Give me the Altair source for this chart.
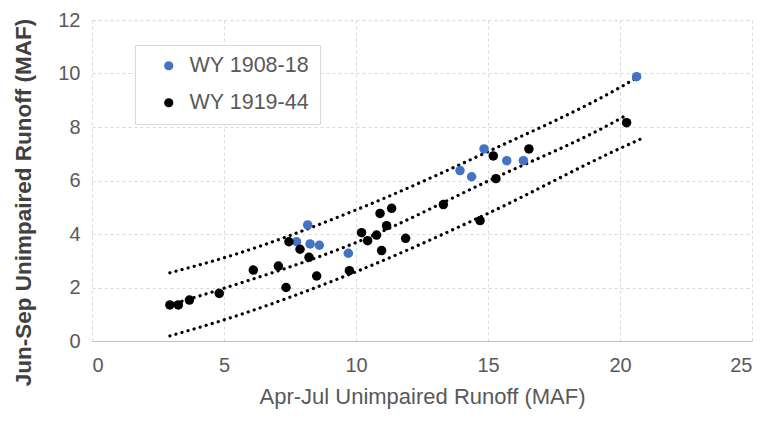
import altair as alt
import pandas as pd

# Scatter data (Apr-Jul runoff, Jun-Sep runoff), MAF
wy1908_x = [8.17, 7.75, 8.26, 8.61, 9.71, 13.94, 14.38, 14.85, 15.71, 16.34, 20.63]
wy1908_y = [4.34, 3.71, 3.63, 3.58, 3.28, 6.37, 6.14, 7.18, 6.74, 6.74, 9.88]

wy1919_x = [2.95, 3.27, 3.69, 4.82, 6.11, 7.06, 7.35, 7.46, 7.88, 8.22, 8.51, 9.75, 10.21,
            10.44, 10.78, 10.91, 11.16, 11.35, 10.97, 11.88, 13.31, 14.70, 15.20, 15.30,
            16.55, 20.25]
wy1919_y = [1.35, 1.35, 1.53, 1.78, 2.65, 2.80, 2.00, 3.71, 3.43, 3.13, 2.43, 2.63, 4.05,
            3.75, 3.96, 4.77, 4.31, 4.96, 3.38, 3.84, 5.10, 4.50, 6.92, 6.07,
            7.18, 8.16]

# Dotted curves
upper_x = [2.95, 5, 10, 15, 20, 20.6]
upper_y = [2.55, 3.11, 4.90, 7.08, 9.48, 9.82]
mid_x = [2.95, 5, 10, 15, 20, 20.25]
mid_y = [1.35, 1.97, 3.68, 5.98, 8.31, 8.45]
low_x = [2.95, 5, 10, 15, 20, 20.85]
low_y = [0.19, 0.79, 2.59, 4.77, 7.20, 7.58]

series_names = ["WY 1908-18", "WY 1919-44"]
series_colors = ["#4472C4", "#000000"]

pts = pd.concat([
    pd.DataFrame({"x": wy1908_x, "y": wy1908_y, "s": series_names[0]}),
    pd.DataFrame({"x": wy1919_x, "y": wy1919_y, "s": series_names[1]}),
])
lines = pd.concat([
    pd.DataFrame({"x": upper_x, "y": upper_y, "c": "upper"}),
    pd.DataFrame({"x": mid_x, "y": mid_y, "c": "mid"}),
    pd.DataFrame({"x": low_x, "y": low_y, "c": "low"}),
])

FONT = "Liberation Sans"
GRAY = "#595959"

xenc = alt.X("x:Q", scale=alt.Scale(domain=[0, 25], nice=False),
             axis=alt.Axis(values=[0, 5, 10, 15, 20, 25], title="Apr-Jul  Unimpaired Runoff (MAF)",
                           titlePadding=11, labelPadding=14, titleFontSize=22))
yenc = alt.Y("y:Q", scale=alt.Scale(domain=[0, 12], nice=False),
             axis=alt.Axis(values=[0, 2, 4, 6, 8, 10, 12], title="Jun-Sep Unimpaired Runoff (MAF)",
                           titlePadding=22, labelPadding=12, domain=False, titleY=182,
                           titleFontSize=22.5, titleColor="#404040", titleFontWeight="bold"))

line_layer = alt.Chart(lines).mark_line(
    color="black", strokeWidth=3.2, strokeDash=[0.1, 6.2], strokeCap="round",
    interpolate="monotone"
).encode(x=xenc, y=yenc, detail="c:N")

pt_layer = alt.Chart(pts).mark_circle(size=90, opacity=1).encode(
    x=xenc, y=yenc,
    color=alt.Color("s:N", scale=alt.Scale(domain=series_names, range=series_colors),
                    legend=alt.Legend(title=None, orient="none", legendX=43, legendY=25,
                                      padding=10, symbolSize=85, labelFontSize=21.5,
                                      labelColor=GRAY, labelFont=FONT, rowPadding=14,
                                      labelOffset=10, strokeColor="#d9d9d9",
                                      fillColor="white", symbolOffset=13))
)

chart = (line_layer + pt_layer).properties(
    width=660, height=321,
    autosize=alt.AutoSizeParams(type="none"),
    padding={"left": 84, "top": 12, "right": 5, "bottom": 74},
).configure_view(stroke=None).configure_axis(
    grid=True, gridColor="#d9d9d9", gridDash=[3, 3], gridWidth=1,
    ticks=False, domainColor="#c0c0c0", domainWidth=1.2,
    labelFont=FONT, labelFontSize=20, labelColor=GRAY,
    titleFont=FONT, titleColor=GRAY, titleFontWeight="normal"
)

chart.save("out.html", embed_options={"renderer": "svg", "actions": False})
